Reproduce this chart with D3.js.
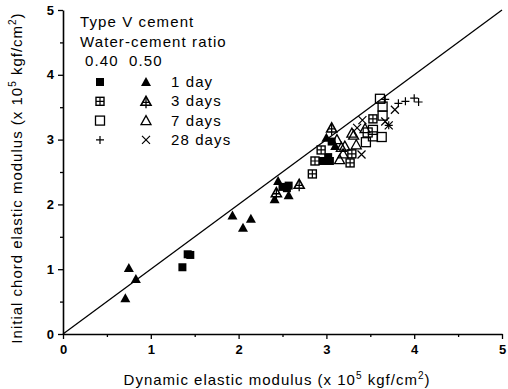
<!DOCTYPE html>
<html>
<head>
<meta charset="utf-8">
<script src="https://cdn.jsdelivr.net/npm/d3@7"></script>
<style>
  body { margin: 0; background: #fff; }
  text { font-family: "Liberation Sans", Arial, sans-serif; fill: #000; }
</style>
</head>
<body>
<svg id="chart"></svg>
<script>
// legend labels
const ageLabels = ["1 day", "3 days", "7 days", "28 days"];
const ratioLabels = ["0.40", "0.50"];
const axisTicks = [0, 1, 2, 3, 4, 5];
const minorTicks = [0.5, 1.5, 2.5, 3.5, 4.5];

// [dynamic modulus, chord modulus], both x 10^5 kgf/cm2
// w/c 0.40
const wc40day1 = [[1.36, 1.03], [1.42, 1.23], [1.45, 1.22], [2.50, 2.27], [2.55, 2.25], [2.57, 2.29],
  [2.95, 2.67], [3.04, 2.67], [3.06, 2.97], [3.02, 2.73]];
const wc40day3 = [[2.84, 2.47], [2.87, 2.67], [2.94, 2.84], [3.29, 2.78], [3.27, 2.64], [3.53, 3.32]];
const wc40day7 = [[3.61, 3.63], [3.64, 3.51], [3.64, 3.37], [3.53, 3.15], [3.63, 3.04], [3.53, 3.05],
  [3.45, 2.96], [3.47, 3.11]];
const wc40day28 = [[3.67, 3.62], [3.82, 3.56], [3.90, 3.59], [4.00, 3.64], [4.05, 3.58], [3.71, 3.22]];
// w/c 0.50
const wc50day1 = [[0.71, 0.55], [0.75, 1.02], [0.83, 0.85], [1.93, 1.83], [2.05, 1.64], [2.14, 1.78],
  [2.41, 2.08], [2.45, 2.36], [2.57, 2.14], [3.00, 3.03], [3.10, 2.90]];
const wc50day3 = [[2.43, 2.18], [2.69, 2.31], [3.06, 3.18]];
const wc50day7 = [[3.12, 3.00], [3.17, 2.88], [3.15, 2.69], [3.19, 2.78], [3.31, 3.07], [3.44, 3.17],
  [3.34, 2.92], [3.21, 2.90], [3.29, 3.10]];
const wc50day28 = [[3.35, 3.18], [3.41, 3.30], [3.40, 2.77], [3.67, 3.28], [3.71, 3.22], [3.78, 3.46]];

const series = [
  { data: wc40day1, shape: "sqFill" },
  { data: wc40day3, shape: "sqHatch" },
  { data: wc40day7, shape: "sqOpen" },
  { data: wc40day28, shape: "plus" },
  { data: wc50day1, shape: "triFill" },
  { data: wc50day3, shape: "triCross" },
  { data: wc50day7, shape: "triOpen" },
  { data: wc50day28, shape: "cross" }
];

const width = 508, height = 389;
const svg = d3.select("#chart").attr("width", width).attr("height", height);

const x = d3.scaleLinear().domain([0, 5]).range([63, 502]);
const y = d3.scaleLinear().domain([0, 5]).range([334, 10]);

// draws one marker into g
function marker(g, shape) {
  const tri = "M0,-5L5,4L-5,4Z";
  if (shape === "sqFill") {
    g.append("rect").attr("x", -4).attr("y", -4).attr("width", 8).attr("height", 8).attr("fill", "#000");
  } else if (shape === "sqHatch") {
    g.append("rect").attr("x", -4).attr("y", -4).attr("width", 8).attr("height", 8)
      .attr("fill", "#fff").attr("stroke", "#000").attr("stroke-width", 1.4);
    g.append("path").attr("d", "M0,-4V4M-4,0H4").attr("stroke", "#000").attr("stroke-width", 1.2);
  } else if (shape === "sqOpen") {
    g.append("rect").attr("x", -4.5).attr("y", -4.5).attr("width", 9).attr("height", 9)
      .attr("fill", "none").attr("stroke", "#000").attr("stroke-width", 1.3);
  } else if (shape === "plus") {
    g.append("path").attr("d", "M0,-4V4M-4,0H4").attr("stroke", "#000").attr("stroke-width", 1.2);
  } else if (shape === "triFill") {
    g.append("path").attr("d", tri).attr("fill", "#000");
  } else if (shape === "triCross") {
    g.append("path").attr("d", tri).attr("fill", "#fff").attr("stroke", "#000").attr("stroke-width", 1.6);
    g.append("path").attr("d", "M0,-4V7M-3.5,1H3.5").attr("stroke", "#000").attr("stroke-width", 1.3);
  } else if (shape === "triOpen") {
    g.append("path").attr("d", tri).attr("fill", "none").attr("stroke", "#000").attr("stroke-width", 1.3);
  } else if (shape === "cross") {
    g.append("path").attr("d", "M-4,-4L4,4M-4,4L4,-4").attr("stroke", "#000").attr("stroke-width", 1.2);
  }
}

// axes
const xAxis = svg.append("g").attr("transform", `translate(0,${y(0)})`)
  .call(d3.axisBottom(x).tickValues(axisTicks).tickSize(5).tickSizeOuter(0).tickFormat(d3.format("d")));
svg.append("g").attr("transform", `translate(0,${y(0)})`)
  .call(d3.axisBottom(x).tickValues(minorTicks).tickSize(3).tickFormat(""))
  .select(".domain").remove();
const yAxis = svg.append("g").attr("transform", `translate(${x(0)},0)`)
  .call(d3.axisLeft(y).tickValues(axisTicks).tickSize(5).tickSizeOuter(0).tickFormat(d3.format("d")));
svg.append("g").attr("transform", `translate(${x(0)},0)`)
  .call(d3.axisLeft(y).tickValues(minorTicks).tickSize(3).tickFormat(""))
  .select(".domain").remove();

svg.selectAll(".domain").attr("stroke-width", 1.6);
svg.selectAll(".tick line").attr("stroke-width", 1.3);
xAxis.selectAll(".tick text").attr("font-size", 13).attr("y", 11).attr("font-weight", "bold");
yAxis.selectAll(".tick text").attr("font-size", 13).attr("x", -9).attr("font-weight", "bold");

// equality line
svg.append("line")
  .attr("x1", x(0)).attr("y1", y(0)).attr("x2", x(5)).attr("y2", y(5))
  .attr("stroke", "#000").attr("stroke-width", 1.3);

// points
series.forEach(s => {
  svg.append("g").selectAll("g")
    .data(s.data)
    .join("g")
    .attr("transform", d => `translate(${x(d[0])},${y(d[1])})`)
    .each(function () { marker(d3.select(this), s.shape); });
});

// legend
const legend = svg.append("g").attr("font-size", 15).attr("letter-spacing", 1.1);
legend.append("text").attr("x", 80).attr("y", 27).text("Type V cement");
legend.append("text").attr("x", 80).attr("y", 47).text("Water-cement ratio");
legend.selectAll(".ratio").data(ratioLabels).join("text")
  .attr("class", "ratio")
  .attr("x", (d, i) => i === 0 ? 85 : 129).attr("y", 66).text(d => d);
ageLabels.forEach((lab, i) => {
  const yy = 82 + i * 19.3;
  marker(legend.append("g").attr("transform", `translate(100,${yy})`), series[i].shape);
  marker(legend.append("g").attr("transform", `translate(146,${yy})`), series[i + 4].shape);
  legend.append("text").attr("x", 171).attr("y", yy + 5).text(lab);
});

// axis titles
const xt = svg.append("text").attr("x", 277).attr("y", 385).attr("text-anchor", "middle")
  .attr("font-size", 15).attr("letter-spacing", 1);
xt.append("tspan").text("Dynamic elastic modulus (x 10");
xt.append("tspan").attr("font-size", 10).attr("dy", -6).text("5");
xt.append("tspan").attr("dy", 6).text(" kgf/cm");
xt.append("tspan").attr("font-size", 10).attr("dy", -6).text("2");
xt.append("tspan").attr("dy", 6).text(")");

const yt = svg.append("text").attr("transform", "translate(22,178) rotate(-90)").attr("text-anchor", "middle")
  .attr("font-size", 15).attr("letter-spacing", 1);
yt.append("tspan").text("Initial chord elastic modulus (x 10");
yt.append("tspan").attr("font-size", 10).attr("dy", -6).text("5");
yt.append("tspan").attr("dy", 6).text(" kgf/cm");
yt.append("tspan").attr("font-size", 10).attr("dy", -6).text("2");
yt.append("tspan").attr("dy", 6).text(")");
</script>
</body>
</html>
